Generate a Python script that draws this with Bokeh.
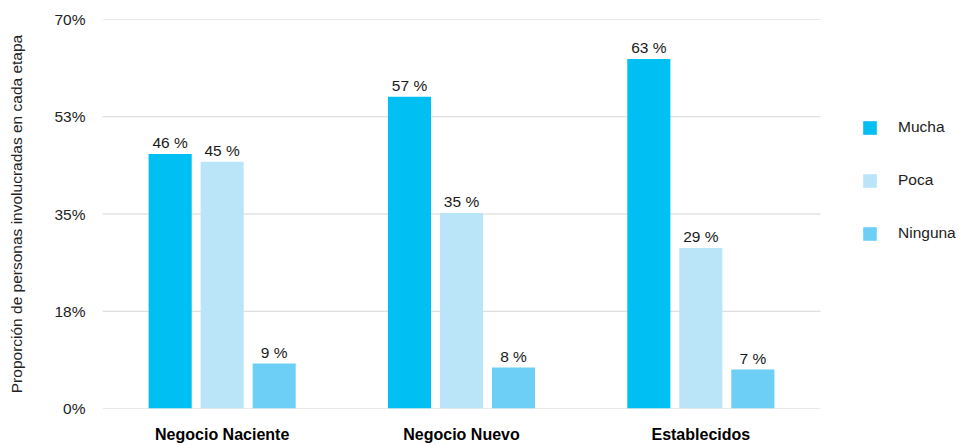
from bokeh.plotting import figure
from bokeh.models import (Range1d, ColumnDataSource, FixedTicker,
                          Legend, LegendItem)
from bokeh.transform import dodge
from bokeh.core.properties import value
from bokeh.embed import file_html
from bokeh.resources import INLINE

# ---- data ----
categories = ["Negocio Naciente", "Negocio Nuevo", "Establecidos"]
series_names = ["Mucha", "Poca", "Ninguna"]
mucha = [45.8, 56.1, 62.9]
poca = [44.4, 35.2, 28.9]
ninguna = [8.1, 7.4, 7.0]
mucha_labels = ["46 %", "57 %", "63 %"]
poca_labels = ["45 %", "35 %", "29 %"]
ninguna_labels = ["9 %", "8 %", "7 %"]
y_ticks = [0, 17.5, 35, 52.5, 70]
y_tick_labels = ["0%", "18%", "35%", "53%", "70%"]
y_title = "Proporción de personas involucradas en cada etapa"

colors = ["#00BFF3", "#BAE5F9", "#6DCFF6"]
FONT = "Liberation Sans"

# layout geometry (pixels)
W, H = 959, 445
LEFT, TOP, BOTTOM = 102, 19, 36
CAT_AREA = 718  # pixel width occupied by the categories (gridline length)
n_cat = len(categories)
x_end = n_cat * (W - LEFT) / CAT_AREA  # extra room on the right for the legend

centers = [i + 0.5 for i in range(n_cat)]

p = figure(x_range=Range1d(0, x_end), y_range=Range1d(0, 70),
           width=W, height=H, output_backend="svg", toolbar_location=None,
           min_border_left=LEFT, min_border_right=0, min_border_top=TOP,
           min_border_bottom=BOTTOM)
p.outline_line_color = None
p.background_fill_color = "white"
p.border_fill_color = "white"

# gridlines limited to the category area
p.xgrid.grid_line_color = None
p.ygrid.grid_line_color = None
p.segment(x0=0, x1=n_cat, y0=y_ticks, y1=y_ticks, line_color="#d6d6d6",
          line_width=1, level="underlay")

src = ColumnDataSource(dict(x=centers, Mucha=mucha, Poca=poca, Ninguna=ninguna,
                            lm=mucha_labels, lp=poca_labels, ln=ninguna_labels))

offsets = [-0.2173, 0.0, 0.2173]
bar_w = 0.18
label_cols = ["lm", "lp", "ln"]
renderers = []
for name, off, col, lc in zip(series_names, offsets, colors, label_cols):
    r = p.vbar(x=dodge("x", off), top=name, width=bar_w,
               source=src, fill_color=col, line_color=None)
    renderers.append(r)
    p.text(x=dodge("x", off), y=name, text=lc, source=src,
           text_align="center", text_baseline="alphabetic", y_offset=-11,
           text_font=value(FONT), text_font_size="15.5px", text_color="#1a1a1a")

# y axis
ya = p.yaxis[0]
ya.ticker = FixedTicker(ticks=y_ticks)
ya.major_label_overrides = {t: l for t, l in zip(y_ticks, y_tick_labels)}
ya.axis_line_color = None
ya.major_tick_line_color = None
ya.minor_tick_line_color = None
ya.major_tick_out = 0
ya.major_tick_in = 0
ya.minor_tick_out = 0
ya.major_label_standoff = 17
ya.major_label_text_font = FONT
ya.major_label_text_font_size = "15.5px"
ya.major_label_text_color = "#222222"
ya.axis_label = y_title
ya.axis_label_text_font = FONT
ya.axis_label_text_font_size = "15.5px"
ya.axis_label_text_font_style = "normal"
ya.axis_label_text_color = "#222222"
ya.axis_label_standoff = 26

# x axis
xa = p.xaxis[0]
xa.ticker = FixedTicker(ticks=centers)
xa.major_label_overrides = {c: cat for c, cat in zip(centers, categories)}
xa.axis_line_color = None
xa.major_tick_line_color = None
xa.minor_tick_line_color = None
xa.major_tick_out = 0
xa.major_tick_in = 0
xa.minor_tick_out = 0
xa.major_label_standoff = 17
xa.major_label_text_font = FONT
xa.major_label_text_font_size = "16px"
xa.major_label_text_font_style = "bold"
xa.major_label_text_color = "#000000"

legend = Legend(items=[LegendItem(label=n, renderers=[r]) for n, r in zip(series_names, renderers)],
                location=(759, 166), orientation="vertical",
                background_fill_alpha=0, border_line_color=None,
                padding=0, margin=0, glyph_width=17, glyph_height=17,
                label_height=17, label_standoff=20, spacing=35,
                label_text_font=FONT, label_text_font_size="15.5px",
                label_text_color="#222222")
p.add_layout(legend, "center")

open("out.html", "w").write(file_html(p, INLINE))
